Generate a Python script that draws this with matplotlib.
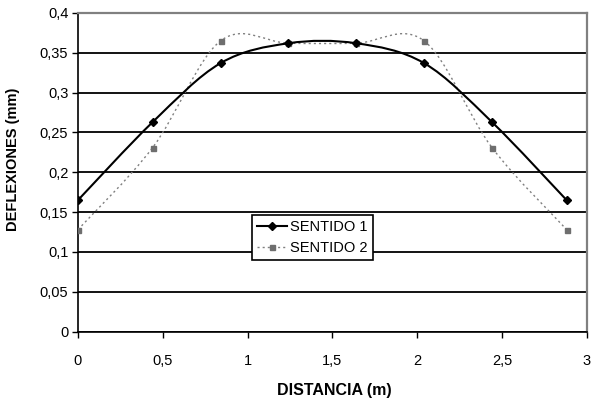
import numpy as np
import matplotlib.pyplot as plt
from matplotlib.path import Path
from matplotlib.patches import PathPatch
from matplotlib.lines import Line2D

plt.rcParams['font.family'] = ['Liberation Sans', 'DejaVu Sans']

# deflexiones medidas en los dos sentidos
distancia = [0, 0.44, 0.84, 1.24, 1.64, 2.04, 2.44, 2.88]
sentido_1 = [0.165, 0.263, 0.337, 0.362, 0.362, 0.337, 0.263, 0.165]
sentido_2 = [0.128, 0.231, 0.365, 0.362, 0.362, 0.365, 0.231, 0.128]

x_ticks = [0, 0.5, 1, 1.5, 2, 2.5, 3]
x_labels = ['0', '0,5', '1', '1,5', '2', '2,5', '3']
y_ticks = [0, 0.05, 0.1, 0.15, 0.2, 0.25, 0.3, 0.35, 0.4]
y_labels = ['0', '0,05', '0,1', '0,15', '0,2', '0,25', '0,3', '0,35', '0,4']


def curva_suave(x, y):
    # linea suavizada tipo Excel: bezier cubico con tangentes catmull-rom
    p = np.column_stack([x, y])
    n = len(p)
    verts = [p[0]]
    codes = [Path.MOVETO]
    for i in range(n - 1):
        p0 = p[max(i - 1, 0)]
        p1 = p[i]
        p2 = p[i + 1]
        p3 = p[min(i + 2, n - 1)]
        verts += [p1 + (p2 - p0) / 6, p2 - (p3 - p1) / 6, p2]
        codes += [Path.CURVE4] * 3
    return Path(verts, codes)


fig = plt.figure(figsize=(5.92, 3.99), dpi=100)
ax = fig.add_axes([78 / 592, 1 - 331.5 / 399, 509 / 592, 318.5 / 399])

gris = '#808080'

ax.add_patch(PathPatch(curva_suave(distancia, sentido_2), fill=False,
                       edgecolor=gris, lw=1.0, linestyle=(0, (1.5, 2.2)), zorder=3))
ax.plot(distancia, sentido_2, linestyle='none', marker='s', markersize=3.6,
        color='#6e6e6e', zorder=4)

ax.add_patch(PathPatch(curva_suave(distancia, sentido_1), fill=False,
                       edgecolor='black', lw=1.5, zorder=5))
ax.plot(distancia, sentido_1, linestyle='none', marker='D', markersize=4.0,
        color='black', zorder=6)

ax.set_xlim(0, 3)
ax.set_ylim(0, 0.4)
ax.set_xticks(x_ticks)
ax.set_xticklabels(x_labels, fontsize=10.5)
ax.set_yticks(y_ticks)
ax.set_yticklabels(y_labels, fontsize=10.5)
ax.tick_params(axis='both', direction='out', length=4, width=1, color='black')
ax.tick_params(axis='x', pad=12.5)
ax.tick_params(axis='y', pad=3)

ax.set_axisbelow(True)
ax.yaxis.grid(True, color='black', lw=1.3)

for lado in ['top', 'right']:
    ax.spines[lado].set_color(gris)
    ax.spines[lado].set_linewidth(1.6)
for lado in ['left', 'bottom']:
    ax.spines[lado].set_color('black')
    ax.spines[lado].set_linewidth(1.2)

ax.set_xlabel('DISTANCIA (m)', fontsize=11.5, fontweight='bold')
ax.xaxis.set_label_coords(0.503, -0.163)
ax.set_ylabel('DEFLEXIONES (mm)', fontsize=10.5, fontweight='bold')
ax.yaxis.set_label_coords(-0.113, 0.54)

handles = [
    Line2D([], [], color='black', lw=1.5, marker='D', markersize=4.0),
    Line2D([], [], color=gris, lw=1.0, linestyle=(0, (1.5, 2.2)),
           marker='s', markersize=3.6, markerfacecolor='#6e6e6e',
           markeredgecolor='#6e6e6e'),
]
leg = ax.legend(handles, ['SENTIDO 1', 'SENTIDO 2'], loc='lower left',
                bbox_to_anchor=(0.342, 0.224), borderaxespad=0, fontsize=10.5,
                frameon=True, fancybox=False, framealpha=1, edgecolor='black',
                handlelength=2.05, handletextpad=0.2, borderpad=0.35,
                labelspacing=0.45)
leg.get_frame().set_linewidth(1.2)
leg.set_zorder(10)

fig.savefig('out.png', dpi=100)
